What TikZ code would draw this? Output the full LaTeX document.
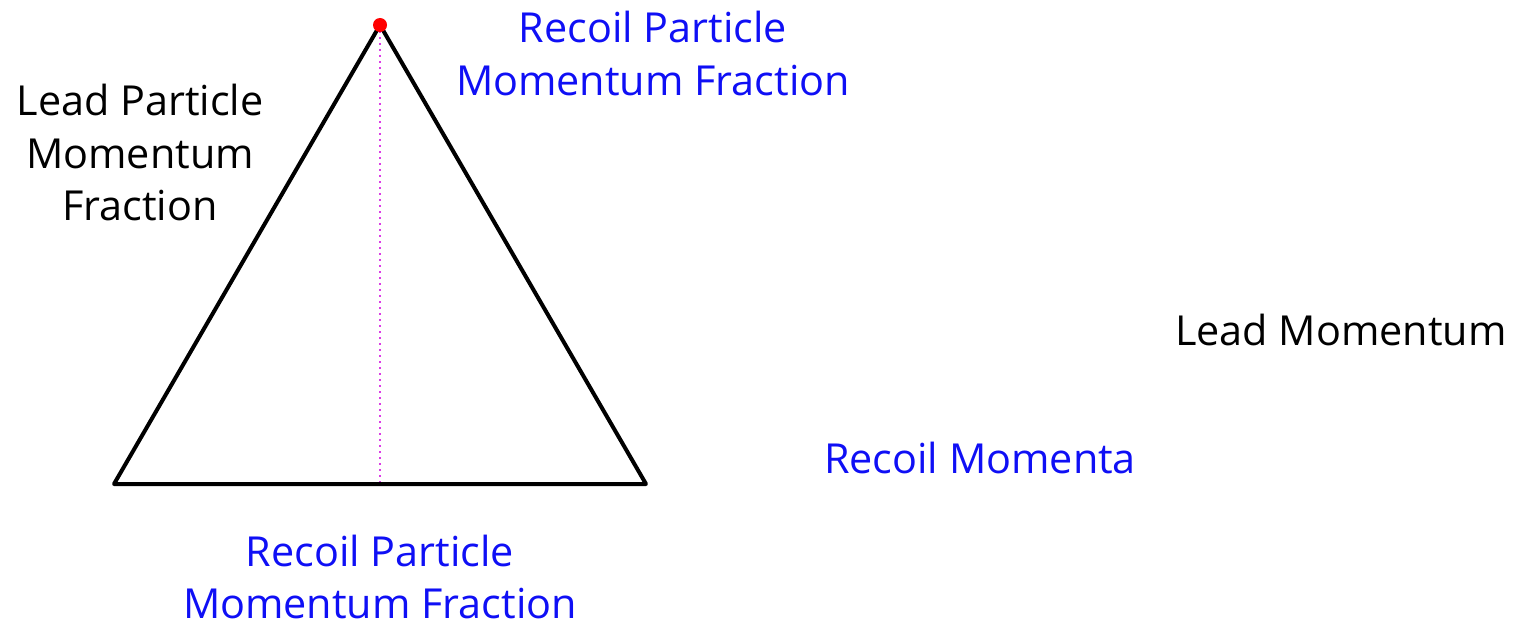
\documentclass[tikz,border=0pt]{standalone}
\usepackage{fontspec}
\setmainfont{Open Sans}
\definecolor{lblblue}{RGB}{15,15,245}
\definecolor{dotmag}{RGB}{220,60,230}
\begin{document}
\begin{tikzpicture}[x=1bp,y=-1bp,
  lbl/.style={font=\fontsize{41.5}{53}\selectfont, align=center, inner sep=0pt},
  bluelbl/.style={lbl, text=lblblue},
  edge/.style={line width=4bp, line join=round, line cap=round}]
\useasboundingbox (0,0) rectangle (1517,626);
\coordinate (top) at (380,25);
\coordinate (bl) at (114,484);
\coordinate (br) at (646,484);
\coordinate (mid) at (380,484);
\draw[dotmag, line width=2.4bp, dash pattern=on 2.4bp off 3.6bp] (top) -- (mid);
\draw[edge] (top) -- (bl) -- (br) -- cycle;
\fill[red] (top) circle (7);
\node[bluelbl] (rpf1) at (653,53.5) {Recoil Particle\\Momentum Fraction};
\node[lbl] (lpf) at (140,152.5) {Lead Particle\\Momentum\\Fraction};
\node[lbl] (lm) at (1341,330) {Lead Momentum};
\node[bluelbl] (rm) at (980,458) {Recoil Momenta};
\node[bluelbl] (rpf2) at (380,577) {Recoil Particle\\Momentum Fraction};
\end{tikzpicture}
\end{document}
